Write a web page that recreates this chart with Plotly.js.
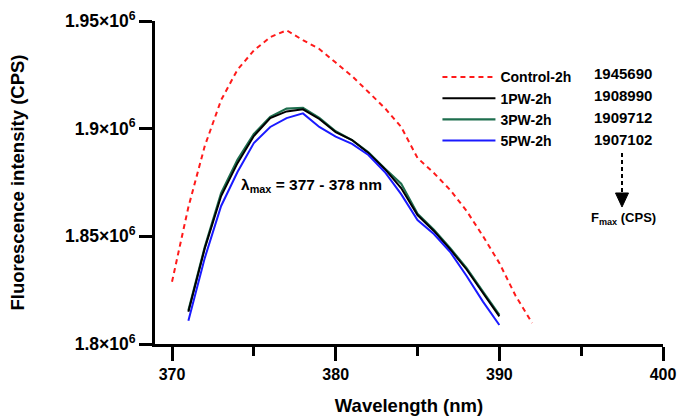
<!DOCTYPE html>
<html>
<head>
<meta charset="utf-8">
<script src="https://cdn.plot.ly/plotly-3.0.1.min.js"></script>
<style>html,body{margin:0;padding:0;background:#fff;}#chart{width:684px;height:417px;}</style>
</head>
<body>
<div id="chart"></div>
<script>
// ---- data ----
const wavelengthControl = [370,371,372,373,374,375,376,377,378,379,380,381,382,383,384,385,386,387,388,389,390,391,392];
const wavelengthPW = [371,372,373,374,375,376,377,378,379,380,381,382,383,384,385,386,387,388,389,390];
const control2h = [1828900,1863600,1891900,1913300,1927400,1936300,1942500,1945690,1941100,1937000,1930700,1924400,1917000,1909600,1900800,1886400,1879400,1871500,1861800,1850100,1837600,1822300,1809800];
const pw1 = [1815000,1844400,1868700,1884000,1896600,1904900,1908000,1908990,1904500,1898400,1894700,1888700,1881300,1872400,1859900,1852500,1843900,1834600,1823700,1812800];
const pw3 = [1815500,1845000,1870000,1885500,1897500,1905500,1909300,1909712,1905000,1898800,1894700,1889000,1881500,1874500,1860500,1853000,1844500,1835200,1824300,1813500];
const pw5 = [1810800,1839900,1864100,1879900,1893300,1900800,1904900,1907102,1900800,1896300,1892900,1887800,1879900,1869600,1857600,1851100,1842700,1831600,1819700,1808800];
const seriesNames = ["Control-2h","1PW-2h","3PW-2h","5PW-2h"];
const fmaxValues = ["1945690","1908990","1909712","1907102"];
const yTickVals = [1800000,1850000,1900000,1950000];
const yTickText = ["1.8×10<sup>6</sup>","1.85×10<sup>6</sup>","1.9×10<sup>6</sup>","1.95×10<sup>6</sup>"];
const xTickVals = [370,380,390,400];
const xTickText = ["370","380","390","400"];

const F = "'Liberation Sans', Arial, sans-serif";
const B = s => "<b>" + s + "</b>";
const bold = (size) => ({family: F, size: size, color: "#000", weight: "bold"});
const traces = [
  {x: wavelengthControl, y: control2h, name: B(seriesNames[0]), mode: "lines", legendrank: 1,
   line: {color: "#FF1A1A", width: 2, dash: "5px,4px"}},
  {x: wavelengthPW, y: pw3, name: B(seriesNames[2]), mode: "lines", legendrank: 3,
   line: {color: "#1E6E4E", width: 2.2}},
  {x: wavelengthPW, y: pw1, name: B(seriesNames[1]), mode: "lines", legendrank: 2,
   line: {color: "#000000", width: 2}},
  {x: wavelengthPW, y: pw5, name: B(seriesNames[3]), mode: "lines", legendrank: 4,
   line: {color: "#1A1AFF", width: 2}}
];

const rowY = [0.838, 0.768, 0.701, 0.632];
const annotations = fmaxValues.map((v, i) => ({
  xref: "paper", yref: "paper", x: 0.860, y: rowY[i], xanchor: "left", yanchor: "middle",
  text: B(v), showarrow: false, font: bold(15)
}));
annotations.push({
  xref: "paper", yref: "paper", x: 0.308, y: 0.492, xanchor: "center", yanchor: "middle",
  text: B("λ<sub>max</sub> = 377 - 378 nm"), showarrow: false, font: bold(15.5)
});
annotations.push({
  xref: "paper", yref: "paper", x: 0.923, y: 0.387, xanchor: "center", yanchor: "middle",
  text: B("F<sub>max</sub> (CPS)"), showarrow: false, font: bold(13)
});

const shapes = [
  {type: "line", xref: "paper", yref: "paper", x0: 0.9193, x1: 0.9193, y0: 0.5913, y1: 0.4644,
   line: {color: "#000", width: 2, dash: "4px,3px"}},
  {type: "path", xref: "paper", yref: "paper",
   path: "M0.9065,0.4675 L0.9321,0.4675 L0.9193,0.4241 Z",
   fillcolor: "#000", line: {color: "#000", width: 1}}
];

const layout = {
  width: 684, height: 417,
  margin: {l: 155, r: 21, t: 21, b: 73},
  paper_bgcolor: "#fff", plot_bgcolor: "#fff",
  font: {family: F, color: "#000", weight: "bold"},
  showlegend: true,
  legend: {x: 0.556, y: 0.875, xanchor: "left", yanchor: "top", bgcolor: "rgba(0,0,0,0)",
    font: bold(14), itemwidth: 53, tracegroupgap: 0, traceorder: "normal"},
  xaxis: {
    range: [368.96, 400], showgrid: false, zeroline: false,
    showline: true, linecolor: "#000", linewidth: 3,
    tickmode: "array", tickvals: xTickVals, ticktext: xTickText.map(B),
    ticks: "outside", ticklen: 14, tickwidth: 3, tickcolor: "#000",
    minor: {tickmode: "linear", tick0: 375, dtick: 10, ticks: "outside", ticklen: 9, tickwidth: 3, tickcolor: "#000", showgrid: false},
    tickfont: bold(16),
    title: {text: B("Wavelength (nm)"), standoff: 17, font: bold(18.5)}
  },
  yaxis: {
    range: [1800000, 1950000], showgrid: false, zeroline: false,
    showline: true, linecolor: "#000", linewidth: 3,
    tickmode: "array", tickvals: yTickVals, ticktext: yTickText.map(B),
    ticks: "outside", ticklen: 13, tickwidth: 3, tickcolor: "#000",
    tickfont: bold(17.5),
    title: {text: B("Fluorescence intensity (CPS)"), standoff: 36, font: bold(18.5)}
  },
  annotations: annotations,
  shapes: shapes
};

Plotly.newPlot("chart", traces, layout, {displayModeBar: false, staticPlot: true});
</script>
</body>
</html>
